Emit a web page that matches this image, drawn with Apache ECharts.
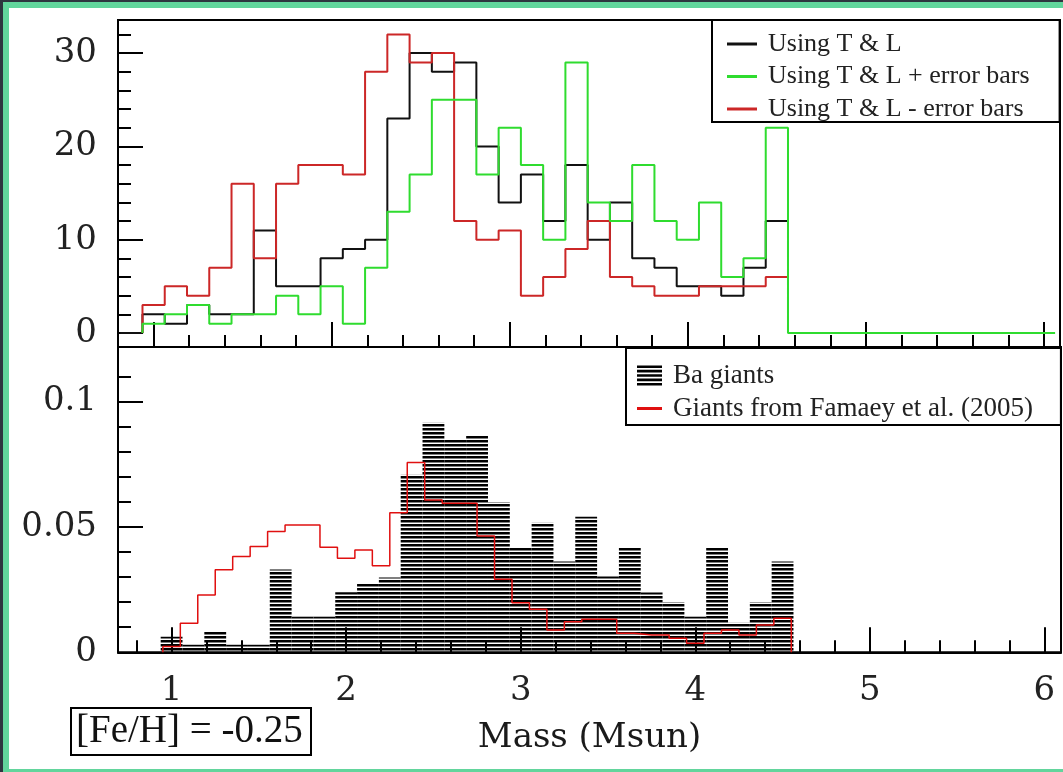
<!DOCTYPE html>
<html><head><meta charset="utf-8">
<script src="https://cdn.jsdelivr.net/npm/echarts@6/dist/echarts.min.js"></script>
<style>
html,body{margin:0;padding:0;width:1063px;height:772px;overflow:hidden;background:#2e353f;}
#frame{position:absolute;left:3px;top:2px;width:1200px;height:761px;border:6px solid #62d59c;background:#fff;}
#chart{position:absolute;left:0;top:0;width:1063px;height:772px;}
</style></head><body><div id="frame"></div><div id="chart"></div>
<script>
// ---- data ----
const massBinStart = 0.9375;      // first bin edge (Msun)
const massBinWidth = 0.125;       // bin width (Msun)
const leadStart = 0.8125;         // empty bin before the first one
const tailEnd = 6.0625;           // empty bins after the last one
const usingTL      = [2,1,3,2,2,11,5,5,8,9,10,23,30,28,29,20,14,17,12,18,10,14,8,7,5,5,4,7,12];
const usingTLplus  = [1,2,3,1,2,2,4,2,5,1,7,13,17,25,25,17,22,18,10,29,14,12,18,12,10,14,6,8,22];
const usingTLminus = [3,5,4,7,16,8,16,18,18,17,28,32,29,30,12,10,11,4,6,9,12,6,5,4,4,5,5,5,6];

const baGiants = [0.0062,0.003,0.0085,0.003,0.003,0.033,0.0142,0.0142,0.024,0.0275,0.0298,
  0.0708,0.0916,0.0847,0.0867,0.0599,0.0419,0.0517,0.0362,0.0541,0.0302,0.0419,0.0239,0.02,
  0.0142,0.0419,0.0118,0.02,0.0362];
const famaeyBinStart = 0.95;
const famaeyBinWidth = 0.1;
const famaey = [0.0023,0.0116,0.0229,0.0329,0.0382,0.0422,0.0482,0.0508,0.0508,0.0419,0.0375,
  0.0408,0.0345,0.0557,0.0757,0.0608,0.0595,0.0595,0.0464,0.0291,0.0198,0.0172,0.0089,0.0122,
  0.0132,0.0132,0.0076,0.0069,0.0069,0.0056,0.0036,0.0076,0.0089,0.0069,0.0109,0.0136];

const massTicks = [1,2,3,4,5,6];
const countTicks = [0,10,20,30];
const fracTicks = [0,0.05,0.1];

// ---- helpers ----
function range(a, b, step){ const out=[]; const n=Math.round((b-a)/step); for(let i=0;i<=n;i++) out.push(+(a+i*step).toFixed(4)); return out; }
function outline(start, width, vals, lead, tail){
  const pts = [];
  pts.push([lead != null ? lead : start, 0]);
  vals.forEach((v,k)=>pts.push([+(start+k*width).toFixed(4), v]));
  const end = +(start+vals.length*width).toFixed(4);
  pts.push([end, 0]);
  if (tail != null) pts.push([tail, 0]);
  return pts;
}
const massMinor = range(0.8, 6.0, 0.2);
const countMinor = range(0, 32, 2);
const fracMinor = range(0, 0.11, 0.01);

const hatch = document.createElement('canvas');
hatch.width = 8; hatch.height = 4;
const hctx = hatch.getContext('2d');
hctx.fillStyle = '#000'; hctx.fillRect(0,0,8,2.5);
const hatchPattern = {image: hatch, repeat: 'repeat'};

const black = '#111', green = '#2fdc2f', redTop = '#cc2727', redBot = '#e01010';
const tickFont = {fontFamily:'"DejaVu Serif"', fontSize:34, color:'#222'};
const lineSt = {color:'#000', width:2};

function xAx(grid, min, max, major, withLabels){
  return [
    {gridIndex:grid, type:'value', min:min, max:max, position:'bottom',
     axisLine:{show:true, onZero:false, lineStyle:lineSt},
     axisTick:{show:true, inside:true, length:25, customValues:major, lineStyle:lineSt},
     axisLabel: withLabels ? Object.assign({show:true, customValues:major, margin:22}, tickFont) : {show:false},
     splitLine:{show:false},
     name: withLabels ? 'Mass (Msun)' : '', nameLocation:'middle', nameGap:86,
     nameTextStyle:{fontFamily:'"DejaVu Serif"', fontSize:34, color:'#1a1a1a', verticalAlign:'middle'}},
    {gridIndex:grid, type:'value', min:min, max:max, position:'bottom',
     axisLine:{show:false, onZero:false},
     axisTick:{show:true, inside:true, length:12, customValues:massMinor, lineStyle:lineSt},
     axisLabel:{show:false}, splitLine:{show:false}}
  ];
}
function yAx(grid, min, max, major, minor){
  return [
    {gridIndex:grid, type:'value', min:min, max:max, position:'left',
     axisLine:{show:true, onZero:false, lineStyle:lineSt},
     axisTick:{show:true, inside:true, length:25, customValues:major, lineStyle:lineSt},
     axisLabel:Object.assign({show:true, customValues:major, margin:21}, tickFont),
     splitLine:{show:false}},
    {gridIndex:grid, type:'value', min:min, max:max, position:'left',
     axisLine:{show:false, onZero:false},
     axisTick:{show:true, inside:true, length:13, customValues:minor, lineStyle:lineSt},
     axisLabel:{show:false}, splitLine:{show:false}}
  ];
}

const chart = echarts.init(document.getElementById('chart'));
chart.setOption({
  animation:false,
  backgroundColor:'transparent',
  grid:[
    {left:118, top:20, width:942, height:327, show:true, borderColor:'#000', borderWidth:2, outerBoundsMode:'none'},
    {left:118, top:347, width:943, height:305.3, show:true, borderColor:'#000', borderWidth:2, outerBoundsMode:'none'}
  ],
  xAxis: [].concat(xAx(0, 0.8, 6.09, massTicks, false), xAx(1, 0.693, 6.095, massTicks, true)),
  yAxis: [].concat(yAx(0, -1.5, 33.55, countTicks, countMinor), yAx(1, 0, 0.1218, fracTicks, fracMinor)),
  legend:[
    {data:[{name:'Using T & L', icon:'rect'},{name:'Using T & L + error bars', icon:'rect'},{name:'Using T & L - error bars', icon:'rect'}],
     orient:'vertical', left:712, top:20, padding:[11,30,0,15], itemWidth:30, itemHeight:3, itemGap:6.5,
     textStyle:{fontFamily:'"Liberation Serif"', fontSize:26, color:'#222', lineHeight:24, padding:[0,0,0,6]},
     backgroundColor:'#fff', borderColor:'#000', borderWidth:2, selectedMode:false},
    {data:[{name:'Ba giants', icon:'path://M0,0h25v2.6h-25z M0,4.35h25v2.6h-25z M0,8.7h25v2.6h-25z M0,13.05h25v2.6h-25z M0,17.4h25v2.6h-25z', itemStyle:{color:'#000'}},
           {name:'Giants from Famaey et al. (2005)', icon:'path://M0,0h25v3h-25z', itemStyle:{color:redBot}}],
     orient:'vertical', left:626, top:348, padding:[14,28,3,11], itemWidth:25, itemHeight:20, itemGap:6,
     textStyle:{fontFamily:'"Liberation Serif"', fontSize:27, color:'#222', lineHeight:26, padding:[0,0,0,6]},
     backgroundColor:'#fff', borderColor:'#000', borderWidth:2, selectedMode:false}
  ],
  graphic:[
    {type:'rect', shape:{x:71, y:708, width:240, height:47}, style:{fill:'#fff', stroke:'#000', lineWidth:2}},
    {type:'text', x:76, y:732, style:{text:'[Fe/H] = -0.25', font:'39px "Liberation Serif"', fill:'#111', verticalAlign:'middle'}}
  ],
  series:[
    {type:'line', name:'Using T & L', xAxisIndex:0, yAxisIndex:0, step:'end', symbol:'none',
     data: outline(massBinStart, massBinWidth, usingTL, leadStart, null),
     lineStyle:{color:black, width:2}, itemStyle:{color:black}, z:3},
    {type:'line', name:'Using T & L - error bars', xAxisIndex:0, yAxisIndex:0, step:'end', symbol:'none',
     data: outline(massBinStart, massBinWidth, usingTLminus, null, null),
     lineStyle:{color:redTop, width:2}, itemStyle:{color:redTop}, z:4},
    {type:'line', name:'Using T & L + error bars', xAxisIndex:0, yAxisIndex:0, step:'end', symbol:'none',
     data: outline(massBinStart, massBinWidth, usingTLplus, null, tailEnd),
     lineStyle:{color:green, width:2}, itemStyle:{color:green}, z:5},
    {type:'custom', name:'Ba giants', xAxisIndex:2, yAxisIndex:2,
     data: baGiants.map((v,k)=>[+(massBinStart+k*massBinWidth).toFixed(4), +(massBinStart+(k+1)*massBinWidth).toFixed(4), v]),
     encode:{x:[0,1], y:2},
     itemStyle:{color:'#000'},
     renderItem:function(params, api){
       const p0 = api.coord([api.value(0), api.value(2)]);
       const p1 = api.coord([api.value(1), 0]);
       return {type:'rect', shape:{x:p0[0], y:p0[1], width:p1[0]-p0[0], height:p1[1]-p0[1]}, style:{fill:hatchPattern}};
     }, z:2},
    {type:'line', name:'Giants from Famaey et al. (2005)', xAxisIndex:2, yAxisIndex:2, step:'end', symbol:'none',
     data: outline(famaeyBinStart, famaeyBinWidth, famaey, null, null),
     lineStyle:{color:redBot, width:1.5}, itemStyle:{color:redBot}, z:4}
  ]
});
</script></body></html>
